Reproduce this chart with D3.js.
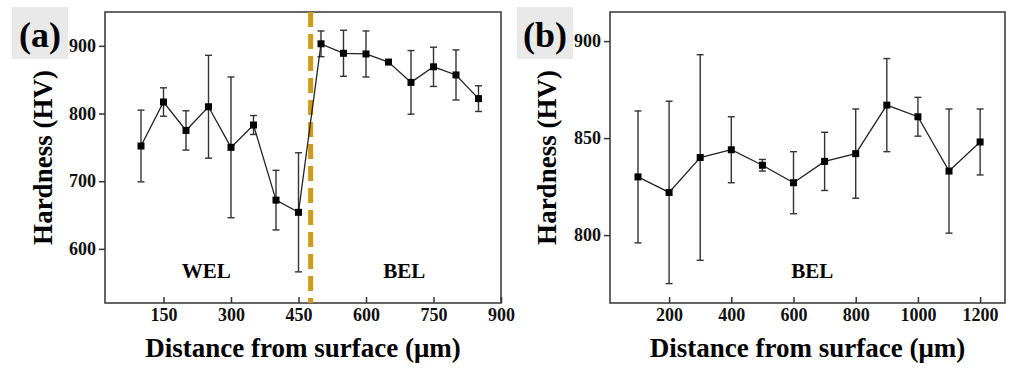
<!DOCTYPE html>
<html>
<head>
<meta charset="utf-8">
<title>Hardness profiles</title>
<script src="https://cdn.jsdelivr.net/npm/d3@7"></script>
<style>
  body { margin: 0; background: #fff; }
  text { font-family: "Liberation Serif", "Times New Roman", serif; font-weight: bold; }
</style>
</head>
<body>
<script>
// panel (a) data
var distA = [100, 150, 200, 250, 300, 350, 400, 450, 500, 550, 600, 650, 700, 750, 800, 850];
var hardA = [752, 817, 775, 810, 750, 783, 672, 654, 903, 889, 888, 876, 846, 869, 857, 822];
var errA  = [53, 21, 29, 76, 104, 14, 44, 88, 19, 34, 34, 3, 47, 29, 37, 19];
var ticksXA = [150, 300, 450, 600, 750, 900];
var ticksYA = [600, 700, 800, 900];
var boundaryA = 477; // WEL / BEL interface

// panel (b) data
var distB = [100, 200, 300, 400, 500, 600, 700, 800, 900, 1000, 1100, 1200];
var hardB = [830, 822, 840, 844, 836, 827, 838, 842, 867, 861, 833, 848];
var errB  = [34, 47, 53, 17, 3, 16, 15, 23, 24, 10, 32, 17];
var ticksXB = [200, 400, 600, 800, 1000, 1200];
var ticksYB = [800, 850, 900];

var W = 1011, H = 369;
var svg = d3.select("body").append("svg").attr("width", W).attr("height", H);

function panel(o) {
    var x = d3.scaleLinear().domain(o.xdom).range([o.left, o.right]);
    var y = d3.scaleLinear().domain(o.ydom).range([o.bottom, o.top]);
    var g = svg.append("g");

    // label box
    g.append("rect").attr("x", o.boxX).attr("y", 7).attr("width", 56).attr("height", 52).attr("fill", "#e9e9e9");
    g.append("text").attr("x", o.boxX + 28).attr("y", 47).attr("text-anchor", "middle")
        .attr("font-size", 36).text(o.tag);

    // frame
    g.append("rect").attr("x", o.left).attr("y", o.top)
        .attr("width", o.right - o.left).attr("height", o.bottom - o.top)
        .attr("fill", "none").attr("stroke", "#333").attr("stroke-width", 1.5);

    // axes: x ticks inward, y ticks outward
    var ax = g.append("g").attr("transform", "translate(0," + o.bottom + ")")
        .call(d3.axisBottom(x).tickValues(o.xt).tickFormat(d3.format("d"))
            .tickSizeInner(-6).tickSizeOuter(0).tickPadding(10));
    var ay = g.append("g").attr("transform", "translate(" + o.left + ",0)")
        .call(d3.axisLeft(y).tickValues(o.yt).tickFormat(d3.format("d"))
            .tickSizeInner(6).tickSizeOuter(0).tickPadding(3));
    [ax, ay].forEach(function (a) {
        a.select(".domain").remove();
        a.selectAll("line").attr("stroke", "#333").attr("stroke-width", 1.5);
        a.selectAll("text").attr("font-size", 18).attr("fill", "#111")
            .style("font-family", "Liberation Serif").style("font-weight", "bold");
    });
    ax.selectAll("text").attr("dy", "0.45em");

    // axis titles
    g.append("text").attr("x", (o.left + o.right) / 2).attr("y", 357).attr("text-anchor", "middle")
        .attr("font-size", 27).text("Distance from surface (\u03bcm)");
    g.append("text").attr("transform", "translate(" + o.ylabX + "," + ((o.top + o.bottom) / 2) + ") rotate(-90)")
        .attr("text-anchor", "middle").attr("font-size", 27).text("Hardness (HV)");

    if (o.boundary) {
        g.append("line").attr("x1", x(o.boundary)).attr("x2", x(o.boundary))
            .attr("y1", o.top).attr("y2", o.bottom)
            .attr("stroke", "#cf9a17").attr("stroke-width", 5).attr("stroke-dasharray", "15,7");
    }

    // region labels
    o.regions.forEach(function (r) {
        g.append("text").attr("x", x(r.x)).attr("y", 278).attr("text-anchor", "middle")
            .attr("font-size", 21).text(r.t);
    });

    var pts = o.xs.map(function (d, i) { return { x: d, y: o.ys[i], e: o.es[i] }; });

    // error bars
    var eb = g.selectAll(".eb").data(pts).enter().append("g")
        .attr("stroke", "#333").attr("stroke-width", 1.4);
    eb.append("line").attr("x1", function (d) { return x(d.x); }).attr("x2", function (d) { return x(d.x); })
        .attr("y1", function (d) { return y(d.y - d.e); }).attr("y2", function (d) { return y(d.y + d.e); });
    [-1, 1].forEach(function (s) {
        eb.append("line").attr("x1", function (d) { return x(d.x) - 3.5; }).attr("x2", function (d) { return x(d.x) + 3.5; })
            .attr("y1", function (d) { return y(d.y + s * d.e); }).attr("y2", function (d) { return y(d.y + s * d.e); });
    });

    // line + markers
    g.append("path").datum(pts).attr("fill", "none").attr("stroke", "#222").attr("stroke-width", 1.3)
        .attr("d", d3.line().x(function (d) { return x(d.x); }).y(function (d) { return y(d.y); }));
    g.selectAll(".pt").data(pts).enter().append("rect")
        .attr("x", function (d) { return x(d.x) - 3.5; }).attr("y", function (d) { return y(d.y) - 3.5; })
        .attr("width", 7).attr("height", 7).attr("fill", "#000");
}

panel({
    tag: "(a)", boxX: 12, ylabX: 52,
    left: 105, right: 501, top: 12, bottom: 303,
    xdom: [20, 900], ydom: [520, 950], xt: ticksXA, yt: ticksYA,
    xs: distA, ys: hardA, es: errA, boundary: boundaryA,
    regions: [{ x: 245, t: "WEL" }, { x: 685, t: "BEL" }]
});

panel({
    tag: "(b)", boxX: 517, ylabX: 556,
    left: 610, right: 1005, top: 12, bottom: 303,
    xdom: [10, 1280], ydom: [765, 915], xt: ticksXB, yt: ticksYB,
    xs: distB, ys: hardB, es: errB, boundary: null,
    regions: [{ x: 660, t: "BEL" }]
});
</script>
</body>
</html>
